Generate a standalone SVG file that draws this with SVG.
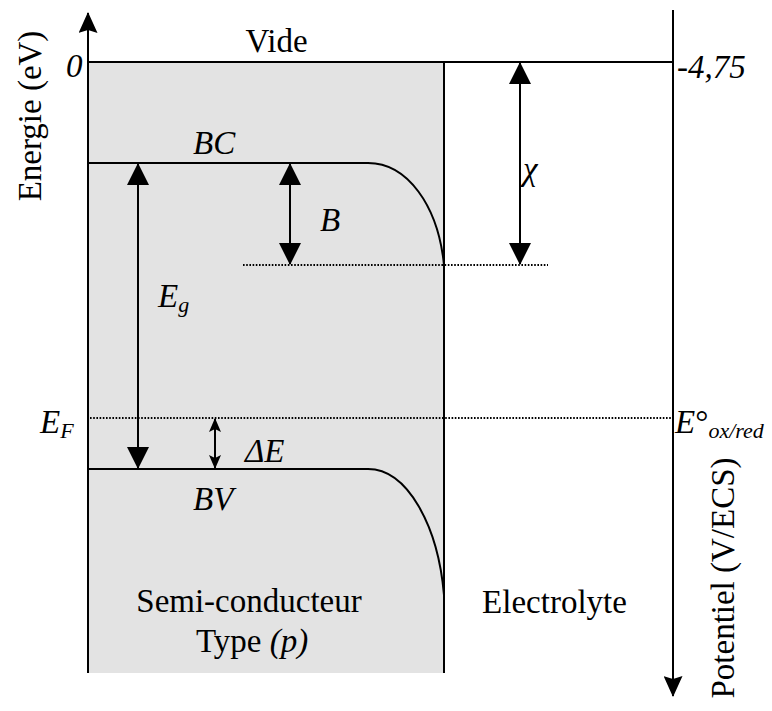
<svg xmlns="http://www.w3.org/2000/svg" width="772" height="711" viewBox="0 0 772 711">
<style>
.ln{stroke:#000;stroke-width:2;fill:none}
.dot{stroke:#000;stroke-width:2;fill:none;stroke-dasharray:1.6,1.6}
text{font-family:'Liberation Serif','Times New Roman','DejaVu Serif',serif;font-size:33px;fill:#000}
.i{font-style:italic}
.sub{font-size:22px}
</style>
<defs>
<marker id="big" markerUnits="userSpaceOnUse" markerWidth="22" markerHeight="22" refX="21" refY="11" orient="auto-start-reverse" viewBox="0 0 22 22">
<path d="M0,0 L22,11 L0,22 z" fill="#000"/>
</marker>
<marker id="axis" markerUnits="userSpaceOnUse" markerWidth="21" markerHeight="19" refX="20" refY="9.5" orient="auto" viewBox="0 0 21 19">
<path d="M21,9.5 L0,0 L3,9.5 L0,19 z" fill="#000"/>
</marker>
<marker id="small" markerUnits="userSpaceOnUse" markerWidth="14" markerHeight="12" refX="13" refY="6" orient="auto-start-reverse" viewBox="0 0 14 12">
<path d="M14,6 L0,0 L3,6 L0,12 z" fill="#000"/>
</marker>
</defs>

<g id="semiconducteur">
<rect x="88" y="62" width="356" height="611" fill="#e3e3e3"/>
<line class="ln" x1="444" y1="62" x2="444" y2="673"/>
</g>

<g id="axes">
<line class="ln" x1="88" y1="673" x2="88" y2="13" marker-end="url(#axis)"/>
<line class="ln" x1="673" y1="10" x2="673" y2="696" marker-end="url(#axis)"/>
<line class="ln" x1="88" y1="62" x2="673" y2="62"/>
</g>

<g id="bandes">
<path class="ln" d="M88,163 L368,163 C407,163 438,205 444,265"/>
<path class="ln" d="M88,469 L368,469 C407,469 438,525 444,595"/>
<line class="dot" x1="243" y1="265" x2="548" y2="265"/>
<line class="dot" x1="90" y1="418" x2="672" y2="418"/>
</g>

<g id="connecteurs">
<line class="ln" x1="138" y1="164" x2="138" y2="468" marker-start="url(#big)" marker-end="url(#big)"/>
<line class="ln" x1="290" y1="164" x2="290" y2="264" marker-start="url(#big)" marker-end="url(#big)"/>
<line class="ln" x1="520" y1="63" x2="520" y2="264" marker-start="url(#big)" marker-end="url(#big)"/>
<line class="ln" x1="215" y1="419" x2="215" y2="468" marker-start="url(#small)" marker-end="url(#small)"/>
</g>

<g id="labels">
<text x="276.5" y="52" text-anchor="middle">Vide</text>
<text class="i" x="66" y="77">0</text>
<text class="i" x="677" y="78">-4,75</text>
<text transform="translate(41,116) rotate(-90)" text-anchor="middle" font-size="34">Energie (eV)</text>
<text transform="translate(734,578) rotate(-90)" text-anchor="middle">Potentiel (V/ECS)</text>
<text class="i" x="193" y="154">BC</text>
<text class="i" x="320" y="231">B</text>
<text class="i" x="523" y="180">χ</text>
<text class="i" x="158" y="307">E<tspan class="sub" dy="5">g</tspan></text>
<text class="i" x="40" y="433">E<tspan class="sub" dy="5">F</tspan></text>
<text class="i" x="675" y="433">E<tspan font-style="normal">°</tspan><tspan class="sub" dy="5">ox/red</tspan></text>
<text class="i" x="245" y="462">ΔE</text>
<text class="i" x="193" y="510">BV</text>
<text x="249" y="612" text-anchor="middle">Semi-conducteur</text>
<text x="252" y="652" text-anchor="middle">Type <tspan class="i">(p)</tspan></text>
<text x="554.5" y="613" text-anchor="middle">Electrolyte</text>
</g>
</svg>
